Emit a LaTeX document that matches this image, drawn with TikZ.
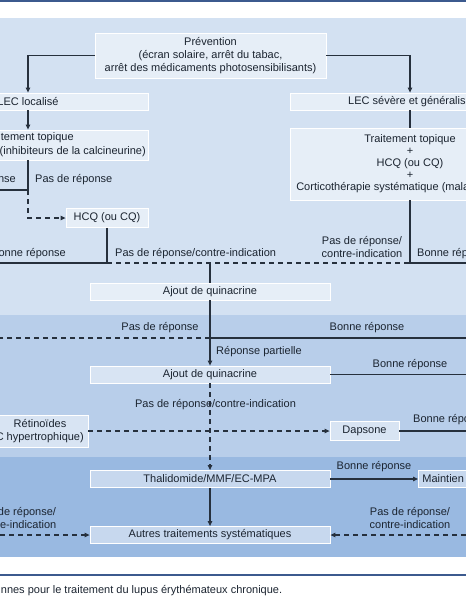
\documentclass[tikz,border=0pt]{standalone}
\usepackage{fontspec}
\setmainfont{Liberation Sans}
\usetikzlibrary{arrows.meta,positioning}
\definecolor{bandA}{HTML}{D3E1F2}
\definecolor{bandB}{HTML}{B8CEEA}
\definecolor{bandC}{HTML}{99B9E1}
\definecolor{inkline}{HTML}{26303D}
\definecolor{txt}{HTML}{1B2430}
\definecolor{rulecol}{HTML}{3C5A8E}
\tikzset{
  flow/.style      = {line width=1.1pt, draw=inkline},
  flowdash/.style  = {flow, dash pattern=on 5pt off 4pt},
  tip/.style       = {-{Triangle[length=5pt,width=4.5pt]}},
  box/.style       = {rectangle, draw=white, line width=0.8pt, fill=white,
                      fill opacity=0.45, text opacity=1, inner sep=0pt,
                      minimum height=17pt, align=center},
  wide/.style      = {box, minimum width=240pt},
  lbl/.style       = {inner sep=0pt, align=center},
  rule/.style      = {line width=1.6pt, draw=rulecol},
}

\begin{document}
\begin{tikzpicture}[x=1pt,y=-1pt,
  every node/.style={font=\fontsize{11}{13}\selectfont, text=txt}]
  \useasboundingbox (0,0) rectangle (466,600);
  \clip (0,0) rectangle (466,600);

  % ---- bands -------------------------------------------------------------
  \fill[bandA] (0,18)  rectangle (466,315);
  \fill[bandB] (0,315) rectangle (466,457);
  \fill[bandC] (0,457) rectangle (466,557);
  \draw[rule] (0,0.8) -- (466,0.8);
  \draw[rule, line width=1.2pt] (0,575) -- (466,575);
  \node[anchor=west, inner sep=0pt] (legende) at (0.7,591)
    {nnes pour le traitement du lupus érythémateux chronique.};

  % ---- prevention and first split ----------------------------------------
  \node[box, minimum width=231pt, minimum height=45pt] (prev) at (210.5,55.5)
    {Prévention\\(écran solaire, arrêt du tabac,\\arrêt des médicaments photosensibilisants)};
  \node[wide] (loc) at (28,101.5)  {LEC localisé};
  \node[wide] (sev) at (410,101.5) {LEC sévère et généralisé};
  \draw[flow,tip] (prev.west) -| (loc.north);
  \draw[flow,tip] (prev.east) -| (sev.north);

  \node[wide, minimum height=30pt] (toploc) at (28,145) {};
  \node[lbl] (toplocA) at (28,138) {Traitement topique};
  \node[lbl, anchor=east] (toplocB) at (146,151.5) {(inhibiteurs de la calcineurine)};
  \node[wide, minimum height=72pt, font=\fontsize{11}{12}\selectfont] (topsev) at (410,164)
    {Traitement topique\\+\\HCQ (ou CQ)\\+\\Corticothérapie systématique (maladie sévère)};
  \draw[flow,tip] (loc) -- (toploc);
  \draw[flow] (sev) -- (topsev);

  % ---- localised branch --------------------------------------------------
  \coordinate (jA)    at (28,190);
  \coordinate (bordA) at (0,190);
  \draw[flow] (toploc.south) -- (jA) -- (bordA);
  \node[lbl, anchor=east] (bonA) at (16,180) {Bonne réponse};
  \node[lbl, anchor=west] (pasA) at (35,180) {Pas de réponse};
  \node[box, minimum width=82pt, minimum height=19pt] (hcq) at (107,218) {HCQ (ou CQ)};
  \draw[flowdash,tip] (jA) |- (hcq.west);

  \coordinate (jB)    at (107,263);
  \coordinate (jD)    at (210,263);
  \coordinate (jC)    at (410,263);
  \coordinate (bordB) at (0,263);
  \coordinate (bordC) at (466,263);
  \draw[flow] (hcq.south) -- (jB) -- (bordB);
  \draw[flowdash] (jB) -- (jC);
  \draw[flow] (topsev.south) -- (jC) -- (bordC);
  \node[lbl, anchor=east] (bonB) at (66,254)  {Bonne réponse};
  \node[lbl, anchor=west] (pasB) at (115,254) {Pas de réponse/contre-indication};
  \node[lbl] (pasC) at (362,247) {Pas de réponse/\\contre-indication};
  \node[lbl, anchor=west] (bonC) at (417,254) {Bonne réponse};

  \node[wide] (ajA) at (210,291.5) {Ajout de quinacrine};
  \draw[flow] (jD) -- (ajA.north);

  % ---- second band -------------------------------------------------------
  \coordinate (jE)    at (210,338);
  \coordinate (bordD) at (0,338);
  \coordinate (bordE) at (466,338);
  \node[wide] (ajB) at (210,374.5) {Ajout de quinacrine};
  \draw[flow,tip] (ajA) -- (ajB);
  \draw[flowdash] (jE) -- (bordD);
  \draw[flow] (jE) -- (bordE);
  \node[lbl] (pasD) at (160,328) {Pas de réponse};
  \node[lbl] (bonD) at (367,328) {Bonne réponse};
  \node[lbl, anchor=west] (part) at (216,352) {Réponse partielle};

  \coordinate (bordF) at (466,374.5);
  \draw[flow] (ajB.east) -- (bordF);
  \node[lbl] (bonF) at (410,365) {Bonne réponse};

  \node[box, minimum width=96pt, minimum height=32pt] (ret) at (40,431) {};
  \node[lbl] (retA) at (40,423) {Rétinoïdes};
  \node[lbl, anchor=east] (retB) at (84,437.5) {(LEC hypertrophique)};
  \node[box, minimum width=69pt, minimum height=19pt] (dap) at (364.5,431) {Dapsone};
  \draw[flowdash,tip] (ret) -- (dap);
  \coordinate (bordG) at (466,431);
  \draw[flow] (dap.east) -- (bordG);
  \node[lbl, anchor=west] (bonG) at (413,420) {Bonne réponse};
  \node[lbl] (pasG) at (215.5,405) {Pas de réponse/contre-indication};

  % ---- third band --------------------------------------------------------
  \node[wide] (thal) at (210,479) {Thalidomide/MMF/EC-MPA};
  \draw[flowdash,tip] (ajB) -- (thal);
  \node[box, anchor=west, text width=92pt, inner xsep=4pt, align=left] (maint) at (418,479) {Maintien};
  \draw[flow,tip] (thal) -- (maint);
  \node[lbl] (bonH) at (374,467) {Bonne réponse};

  \node[wide] (aut) at (210,535) {Autres traitements systématiques};
  \draw[flow,tip] (thal) -- (aut);
  \coordinate (bordH) at (0,535);
  \coordinate (bordI) at (466,535);
  \draw[flowdash,tip] (bordH) -- (aut);
  \draw[flowdash,tip] (bordI) -- (aut);
  \node[lbl] (pasH) at (16,518)  {Pas de réponse/\\contre-indication};
  \node[lbl] (pasI) at (410,518) {Pas de réponse/\\contre-indication};
\end{tikzpicture}
\end{document}
